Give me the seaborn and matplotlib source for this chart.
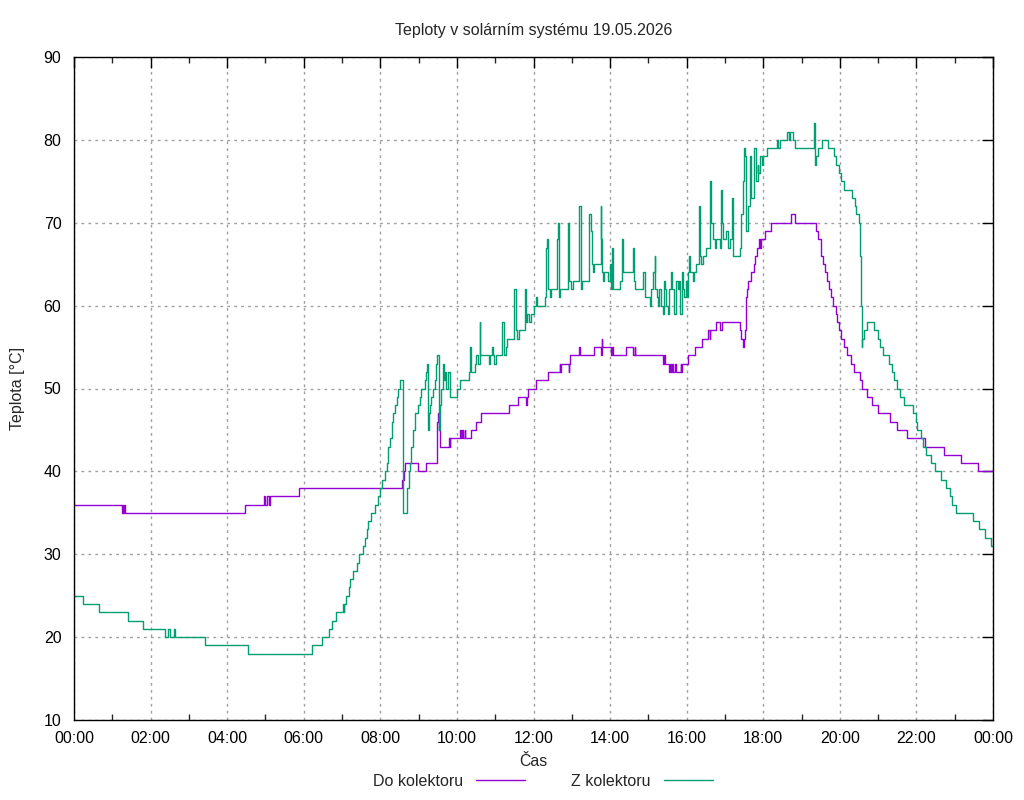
import numpy as np
import pandas as pd
import matplotlib
matplotlib.use("Agg")
import matplotlib.pyplot as plt
import seaborn as sns
from matplotlib.ticker import MultipleLocator, FuncFormatter

# ---- data (time in hours, temperature in °C), stepwise readings ----
do_time = [0.0, 1.245, 1.27, 1.29, 1.31, 1.33, 4.47, 4.96, 5.0, 5.04, 5.08, 5.12, 5.88,
           8.57, 8.62, 8.64, 8.99, 9.18, 9.48, 9.50, 9.53, 9.55, 9.79, 9.81, 9.83,
           10.08, 10.10, 10.13, 10.16, 10.20, 10.22, 10.36, 10.50, 10.63, 11.37, 11.59,
           11.80, 11.82, 11.85, 12.07, 12.37, 12.68, 12.70, 12.72, 12.92, 12.94, 12.96,
           13.20, 13.22, 13.59, 13.76, 13.78, 13.80, 14.03, 14.06, 14.08, 14.42, 14.60,
           14.64, 14.66, 15.39, 15.42, 15.44, 15.53, 15.56, 15.58, 15.62, 15.65, 15.70,
           15.72, 15.84, 15.86, 15.88, 16.04, 16.22, 16.40, 16.57, 16.60, 16.62, 16.77,
           16.88, 16.92, 17.38, 17.42, 17.46, 17.50, 17.53, 17.545, 17.57, 17.60, 17.68,
           17.75, 17.79, 17.83, 17.90, 17.92, 17.95, 18.04, 18.19, 18.72, 18.83, 19.37,
           19.43, 19.50, 19.52, 19.57, 19.62, 19.67, 19.71, 19.77, 19.83, 19.90, 19.93,
           19.98, 20.03, 20.11, 20.20, 20.30, 20.37, 20.52, 20.58, 20.72, 20.84, 21.00,
           21.30, 21.50, 21.76, 22.22, 22.71, 23.16, 23.61, 24.0]
do_temp = [36, 35, 36, 35, 36, 35, 36, 37, 36, 37, 36, 37, 38,
           39, 40, 41, 40, 41, 46, 47, 45, 43, 44, 43, 44,
           45, 44, 45, 44, 45, 44, 45, 46, 47, 48, 49,
           48, 49, 50, 51, 52, 53, 52, 53, 52, 53, 54,
           55, 54, 55, 54, 56, 55, 54, 55, 54, 55, 54,
           55, 54, 53, 54, 53, 52, 53, 52, 53, 52, 53,
           52, 53, 52, 53, 54, 55, 56, 57, 56, 57, 58,
           57, 58, 57, 56, 55, 56, 57, 61, 62, 63, 64,
           65, 66, 67, 68, 67, 68, 69, 70, 71, 70, 69,
           68, 67, 66, 65, 64, 63, 62, 61, 60, 59, 58,
           57, 56, 55, 54, 53, 52, 51, 50, 49, 48, 47,
           46, 45, 44, 43, 42, 41, 40, 40]

z_time = [0.0, 0.23, 0.65, 1.40, 1.81, 2.38, 2.45, 2.50, 2.60, 2.65, 3.42, 4.55, 6.22,
          6.47, 6.67, 6.75, 6.84, 7.02, 7.04, 7.06, 7.10, 7.17, 7.21, 7.28, 7.38, 7.43,
          7.54, 7.60, 7.64, 7.69, 7.75, 7.85, 7.95, 7.99, 8.04, 8.12, 8.17, 8.21, 8.25,
          8.30, 8.34, 8.38, 8.43, 8.47, 8.51, 8.58, 8.70, 8.74, 8.77, 8.81, 8.86, 8.90,
          8.99, 9.03, 9.07, 9.16, 9.20, 9.23, 9.25, 9.27, 9.29, 9.33, 9.38, 9.42, 9.46,
          9.49, 9.52, 9.55, 9.57, 9.59, 9.64, 9.66, 9.70, 9.72, 9.77, 9.81, 9.83, 10.0,
          10.07, 10.31, 10.35, 10.37, 10.46, 10.50, 10.55, 10.59, 10.61, 10.83, 10.87,
          10.91, 10.94, 10.98, 11.02, 11.19, 11.22, 11.28, 11.32, 11.50, 11.54, 11.58,
          11.63, 11.78, 11.81, 11.84, 11.89, 11.93, 12.02, 12.06, 12.09, 12.29, 12.33,
          12.35, 12.37, 12.42, 12.46, 12.61, 12.63, 12.66, 12.68, 12.90, 12.94, 12.98,
          13.03, 13.18, 13.20, 13.23, 13.27, 13.46, 13.49, 13.52, 13.55, 13.59, 13.75,
          13.77, 13.79, 13.81, 13.85, 13.94, 14.01, 14.03, 14.05, 14.08, 14.26, 14.31,
          14.35, 14.59, 14.62, 14.66, 14.87, 14.90, 15.03, 15.07, 15.11, 15.16, 15.18,
          15.22, 15.24, 15.29, 15.33, 15.37, 15.42, 15.44, 15.46, 15.50, 15.55, 15.59,
          15.63, 15.68, 15.72, 15.77, 15.81, 15.83, 15.88, 15.91, 15.94, 15.97, 16.0,
          16.03, 16.05, 16.09, 16.16, 16.20, 16.24, 16.31, 16.33, 16.35, 16.38, 16.42,
          16.51, 16.60, 16.64, 16.68, 16.73, 16.77, 16.86, 16.90, 16.93, 16.96, 17.04,
          17.08, 17.12, 17.18, 17.21, 17.39, 17.41, 17.46, 17.50, 17.53, 17.56, 17.61,
          17.65, 17.69, 17.75, 17.81, 17.85, 17.87, 17.91, 17.96, 18.0, 18.11, 18.35,
          18.38, 18.44, 18.63, 18.67, 18.70, 18.77, 18.83, 19.32, 19.35, 19.39, 19.43,
          19.54, 19.68, 19.85, 19.90, 19.98, 20.04, 20.11, 20.33, 20.39, 20.43, 20.49,
          20.52, 20.54, 20.57, 20.59, 20.63, 20.70, 20.89, 21.0, 21.06, 21.13, 21.29,
          21.35, 21.42, 21.50, 21.57, 21.67, 21.91, 21.98, 22.02, 22.13, 22.17, 22.24,
          22.37, 22.48, 22.65, 22.78, 22.87, 22.94, 23.04, 23.48, 23.63, 23.78, 23.94, 24.0]
z_temp = [25, 24, 23, 22, 21, 20, 21, 20, 21, 20, 19, 18, 19,
          20, 21, 22, 23, 24, 23, 24, 25, 26, 27, 28, 29, 30,
          31, 32, 33, 34, 35, 36, 37, 38, 39, 40, 41, 43, 44,
          46, 47, 48, 49, 50, 51, 35, 38, 40, 41, 43, 45, 47,
          48, 49, 50, 51, 52, 53, 45, 47, 48, 49, 50, 51, 53,
          54, 45, 47, 48, 50, 53, 51, 52, 50, 52, 51, 49, 50,
          51, 52, 55, 52, 53, 54, 53, 58, 54, 53, 54,
          55, 54, 53, 54, 58, 54, 55, 56, 62, 57, 56,
          57, 62, 58, 59, 58, 59, 60, 61, 60, 61, 67,
          68, 62, 61, 62, 68, 70, 61, 62, 70, 63, 62,
          63, 68, 72, 62, 63, 71, 69, 65, 64, 65, 72,
          68, 64, 63, 64, 63, 65, 62, 67, 62, 63, 68,
          64, 67, 63, 62, 64, 61, 60, 62, 64, 66, 62,
          61, 60, 62, 60, 59, 63, 62, 60, 59, 62, 64,
          62, 59, 63, 62, 63, 59, 64, 62, 61, 63, 61,
          64, 66, 64, 63, 64, 65, 68, 72, 66, 65, 66,
          67, 75, 70, 68, 67, 68, 67, 74, 70, 68, 69,
          67, 68, 73, 66, 67, 71, 75, 79, 78, 69, 72,
          78, 73, 79, 75, 77, 76, 78, 77, 78, 79, 80,
          79, 80, 81, 80, 81, 80, 79, 82, 77, 78, 79,
          80, 79, 78, 77, 76, 75, 74, 73, 72, 71, 70,
          66, 60, 55, 56, 57, 58, 57, 56, 55, 54, 53,
          52, 51, 50, 49, 48, 47, 46, 45, 44, 43, 42,
          41, 40, 39, 38, 37, 36, 35, 34, 33, 32, 31, 31]

series_names = ["Do kolektoru", "Z kolektoru"]
series_colors = ["#9400D3", "#009E73"]
title = "Teploty v solárním systému 19.05.2026"

df = pd.concat([
    pd.DataFrame({"t": do_time, "temp": do_temp, "serie": series_names[0]}),
    pd.DataFrame({"t": z_time, "temp": z_temp, "serie": series_names[1]}),
], ignore_index=True)

sns.set_theme(style="white")
plt.rcParams["font.family"] = ["Liberation Sans", "DejaVu Sans"]
plt.rcParams["font.size"] = 11.5

fig = plt.figure(figsize=(10.24, 8.0), dpi=100)
ax = fig.add_axes([74 / 1024, 1 - 720 / 800, (993 - 74) / 1024, (720 - 57) / 800])

sns.lineplot(data=df, x="t", y="temp", hue="serie", palette=series_colors,
             hue_order=series_names, estimator=None, sort=False,
             drawstyle="steps-post", linewidth=1.0, ax=ax, legend=True)

handles, labels = ax.get_legend_handles_labels()
ax.get_legend().remove()

ax.set_xlim(0, 24)
ax.set_ylim(10, 90)
ax.xaxis.set_major_locator(MultipleLocator(2))
ax.xaxis.set_minor_locator(MultipleLocator(1))
ax.yaxis.set_major_locator(MultipleLocator(10))
ax.xaxis.set_major_formatter(FuncFormatter(lambda v, p: f"{int(round(v)) % 24:02d}:00"))

ax.grid(True, which="major", color="#a0a0a0", linestyle=(0, (2, 3)), linewidth=1.0)
ax.tick_params(axis="both", which="major", direction="in", length=8, width=1,
               top=True, right=True, labelsize=11.5, colors="black")
ax.tick_params(axis="x", which="major", pad=8)
ax.tick_params(axis="y", which="major", pad=9)
ax.tick_params(axis="x", which="minor", direction="in", length=4, width=1, top=True, bottom=True)
for s in ax.spines.values():
    s.set_visible(True)
    s.set_color("black")
    s.set_linewidth(1.0)

ax.set_xlabel("Čas", fontsize=11.5, labelpad=6)
ax.set_ylabel("Teplota [°C]", fontsize=11.5)
ax.yaxis.set_label_coords(-0.053, 0.5)
ax.set_title(title, fontsize=11.5, pad=16)

fig.legend(handles, labels, loc="center", bbox_to_anchor=(543 / 1024, 1 - 781 / 800),
           ncol=2, markerfirst=False, frameon=False, handlelength=3.1,
           handletextpad=0.8, columnspacing=2.9, fontsize=11.5)

fig.savefig("out.png", dpi=100)
